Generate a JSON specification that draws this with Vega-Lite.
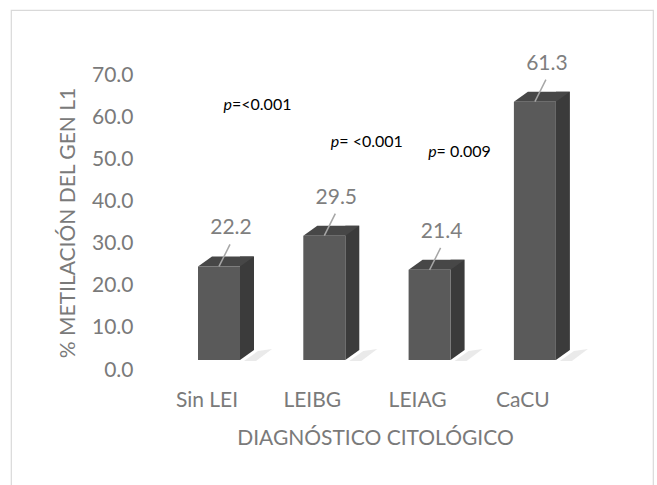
{
  "$schema": "https://vega.github.io/schema/vega-lite/v6.json",
  "autosize": "none",
  "padding": {"left": 11, "top": 10, "right": 4, "bottom": 0},
  "width": 642,
  "height": 480,
  "background": "white",
  "config": {
    "view": {"stroke": "#d9d9d9", "strokeWidth": 1.2},
    "font": "Lato"
  },
  "data": {
    "values": [
      {"grupo": "Sin LEI", "metilacion": 22.2, "p": "=<0.001"},
      {"grupo": "LEIBG", "metilacion": 29.5, "p": "= <0.001"},
      {"grupo": "LEIAG", "metilacion": 21.4, "p": "= 0.009"},
      {"grupo": "CaCU", "metilacion": 61.3, "p": ""}
    ]
  },
  "encoding": {
    "x": {
      "field": "grupo",
      "type": "nominal",
      "sort": null,
      "scale": {"range": [143.35, 564.55], "paddingInner": 0, "paddingOuter": 0},
      "axis": {
        "title": "DIAGNÓSTICO CITOLÓGICO",
        "offset": -105,
        "domain": false,
        "ticks": false,
        "grid": false,
        "labelAngle": 0,
        "labelPadding": 15,
        "labelBaseline": "middle",
        "labelFont": "Lato",
        "labelFontSize": 21,
        "labelColor": "#7a7a7a",
        "titleFont": "Lato",
        "titleFontSize": 21,
        "titleFontWeight": "normal",
        "titleColor": "#7a7a7a",
        "titleX": 364,
        "titleY": 53,
        "titleBaseline": "middle"
      }
    },
    "y": {
      "field": "metilacion",
      "type": "quantitative",
      "scale": {"domain": [0, 70], "range": [360, 65], "nice": false, "zero": true},
      "axis": {
        "title": "% METILACIÓN DEL GEN L1",
        "values": [0, 10, 20, 30, 40, 50, 60, 70],
        "format": ".1f",
        "offset": -122,
        "domain": false,
        "ticks": false,
        "grid": false,
        "labelPadding": 0,
        "labelFont": "Lato",
        "labelFontSize": 21,
        "labelColor": "#7a7a7a",
        "titleFont": "Lato",
        "titleFontSize": 21,
        "titleFontWeight": "normal",
        "titleColor": "#7a7a7a",
        "titleX": -65,
        "titleBaseline": "middle"
      }
    }
  },
  "layer": [
    {
      "mark": {"type": "point", "shape": "M-10,1L46,1L60,-9L74,-11L58,1Z", "size": 4, "filled": true, "color": "#dcdcdc", "opacity": 0.6, "strokeWidth": 0, "xOffset": -9, "yOffset": -10},
      "encoding": {"y": {"datum": 0}}
    },
    {
      "mark": {"type": "bar", "width": 14, "color": "#3b3b3b", "xOffset": 40, "yOffset": -20, "y2Offset": -20}
    },
    {
      "mark": {"type": "point", "shape": "M0,0L0,-10L14,-10Z", "size": 4, "filled": true, "color": "#3b3b3b", "opacity": 1, "strokeWidth": 0, "xOffset": 33, "yOffset": -10},
      "encoding": {"y": {"datum": 0}}
    },
    {
      "mark": {"type": "point", "shape": "M0,0L42,0L56,-10L14,-10Z", "size": 4, "filled": true, "color": "#474747", "opacity": 1, "strokeWidth": 0, "xOffset": -9, "yOffset": -10}
    },
    {
      "mark": {"type": "bar", "width": 42, "color": "#5a5a5a", "xOffset": 12, "yOffset": -10, "y2Offset": -10}
    },
    {
      "mark": {"type": "point", "shape": "M0,0L11,-22", "size": 4, "filled": false, "stroke": "#a6a6a6", "strokeWidth": 1.5, "opacity": 1, "xOffset": 12, "yOffset": -10}
    },
    {
      "mark": {"type": "text", "font": "Lato", "fontSize": 21, "color": "#7f7f7f", "baseline": "middle", "align": "center", "dx": 24, "dy": -48},
      "encoding": {"text": {"field": "metilacion", "type": "quantitative", "format": ".1f"}}
    },
    {
      "transform": [{"filter": "datum.grupo === 'Sin LEI'"}],
      "mark": {"type": "text", "fontStyle": "italic", "font": "Lato", "fontSize": 16, "fill": "#000000", "align": "right", "baseline": "middle", "dx": 25},
      "encoding": {"y": {"datum": 62.9}, "text": {"value": "p"}}
    },
    {
      "transform": [{"filter": "datum.grupo === 'Sin LEI'"}],
      "mark": {"type": "text", "font": "Lato", "fontSize": 16, "fill": "#000000", "align": "left", "baseline": "middle", "dx": 25},
      "encoding": {"y": {"datum": 62.9}, "text": {"field": "p", "type": "nominal"}}
    },
    {
      "transform": [{"filter": "datum.grupo === 'LEIBG'"}],
      "mark": {"type": "text", "fontStyle": "italic", "font": "Lato", "fontSize": 16, "fill": "#000000", "align": "right", "baseline": "middle", "dx": 27},
      "encoding": {"y": {"datum": 54.1}, "text": {"value": "p"}}
    },
    {
      "transform": [{"filter": "datum.grupo === 'LEIBG'"}],
      "mark": {"type": "text", "font": "Lato", "fontSize": 16, "fill": "#000000", "align": "left", "baseline": "middle", "dx": 27},
      "encoding": {"y": {"datum": 54.1}, "text": {"field": "p", "type": "nominal"}}
    },
    {
      "transform": [{"filter": "datum.grupo === 'LEIAG'"}],
      "mark": {"type": "text", "fontStyle": "italic", "font": "Lato", "fontSize": 16, "fill": "#000000", "align": "right", "baseline": "middle", "dx": 19},
      "encoding": {"y": {"datum": 51.7}, "text": {"value": "p"}}
    },
    {
      "transform": [{"filter": "datum.grupo === 'LEIAG'"}],
      "mark": {"type": "text", "font": "Lato", "fontSize": 16, "fill": "#000000", "align": "left", "baseline": "middle", "dx": 19},
      "encoding": {"y": {"datum": 51.7}, "text": {"field": "p", "type": "nominal"}}
    }
  ]
}
